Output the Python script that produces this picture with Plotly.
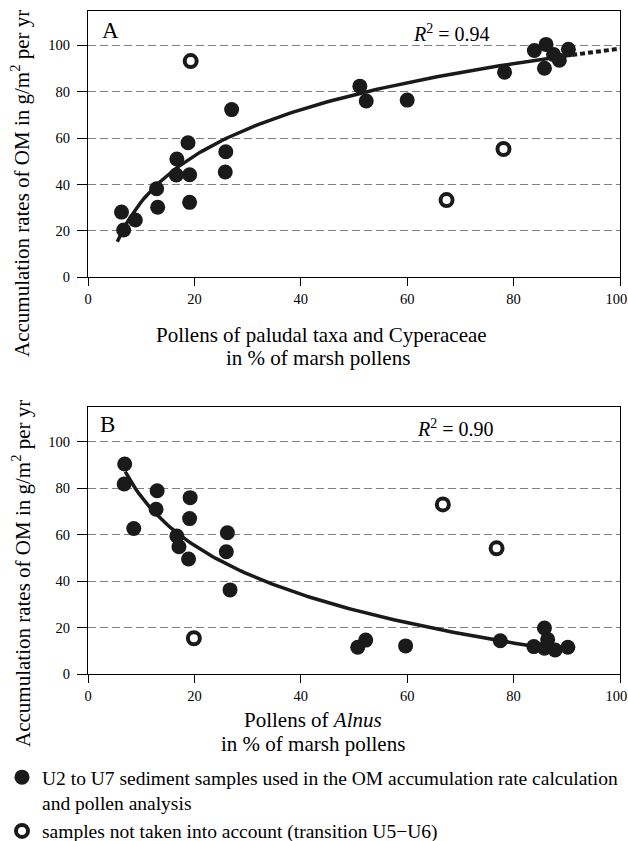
import numpy as np
import plotly.graph_objects as go

W, H = 628, 841

# ---------------- data ----------------
a_used_x = [6.3, 6.7, 8.9, 12.9, 13.1, 16.7, 16.6, 18.8, 19.1, 19.1, 25.9, 25.8, 27.0,
            51.1, 52.3, 60.0, 78.3, 83.9, 86.1, 85.8, 87.5, 88.6, 90.3]
a_used_y = [28.1, 20.4, 24.7, 38.2, 30.2, 51.0, 44.1, 58.0, 44.2, 32.3, 54.1, 45.4, 72.3,
            82.4, 76.0, 76.4, 88.4, 97.8, 100.4, 90.1, 96.1, 93.6, 98.3]
a_excl_x = [19.3, 67.4, 78.1]
a_excl_y = [93.2, 33.3, 55.3]

b_used_x = [6.9, 6.8, 8.6, 13.0, 12.8, 19.2, 19.1, 16.7, 17.1, 18.9, 26.2, 26.0, 26.7,
            50.7, 52.2, 59.7, 77.5, 83.8, 85.8, 86.4, 85.8, 87.8, 90.2]
b_used_y = [90.4, 81.8, 62.6, 78.9, 70.9, 75.9, 66.9, 59.4, 54.8, 49.5, 60.8, 52.6, 36.2,
            11.5, 14.6, 12.1, 14.3, 11.8, 19.8, 14.9, 11.1, 10.3, 11.5]
b_excl_x = [19.9, 66.7, 76.8]
b_excl_y = [15.4, 73.0, 54.1]

# logarithmic fits  y = c0 + c1*ln(x)  (as drawn in the reference)
fit_a = (-33.6, 28.7)
fit_a_solid = (5.5, 91.0)
fit_a_dotted = (91.0, 100.0)
fit_b = (146.1, -30.3)
fit_b_range = (7.0, 85.0)

x_ticks = [0, 20, 40, 60, 80, 100]
x_tick_labels = ["0", "20", "40", "60", "80", "100\u2002"]
y_ticks = [0, 20, 40, 60, 80, 100]

r2_a = "0.94"
r2_b = "0.90"

legend_used = "U2 to U7 sediment samples used in the OM accumulation rate calculation<br>and pollen analysis"
legend_excl = "samples not taken into account (transition U5\u2212U6)"

FONT = '"Liberation Serif", "Times New Roman", Times, "DejaVu Serif", serif'


def curve(coef, rng, n=120):
    xs = np.linspace(rng[0], rng[1], n)
    return xs, coef[0] + coef[1] * np.log(xs)


fig = go.Figure()

filled = dict(color="#1a1a1a", size=15)
opened = dict(color="#1a1a1a", size=12, symbol="circle-open", line=dict(width=4, color="#1a1a1a"))
line_style = dict(color="#1a1a1a", width=3.5)

# Panel A
xs, ys = curve(fit_a, fit_a_solid)
fig.add_trace(go.Scatter(x=xs, y=ys, mode="lines", line=line_style, showlegend=False,
                         xaxis="x", yaxis="y", hoverinfo="skip"))
xs, ys = curve(fit_a, fit_a_dotted, 30)
fig.add_trace(go.Scatter(x=xs, y=ys, mode="lines", line=dict(color="#1a1a1a", width=4, dash="5px,3px"),
                         showlegend=False, xaxis="x", yaxis="y", hoverinfo="skip"))
fig.add_trace(go.Scatter(x=a_used_x, y=a_used_y, mode="markers", marker=filled,
                         name=legend_used, showlegend=True, xaxis="x", yaxis="y"))
fig.add_trace(go.Scatter(x=a_excl_x, y=a_excl_y, mode="markers", marker=opened,
                         name=legend_excl, showlegend=True, xaxis="x", yaxis="y"))

# Panel B
xs, ys = curve(fit_b, fit_b_range)
fig.add_trace(go.Scatter(x=xs, y=ys, mode="lines", line=line_style, showlegend=False,
                         xaxis="x2", yaxis="y2", hoverinfo="skip"))
fig.add_trace(go.Scatter(x=b_used_x, y=b_used_y, mode="markers", marker=filled,
                         showlegend=False, xaxis="x2", yaxis="y2"))
fig.add_trace(go.Scatter(x=b_excl_x, y=b_excl_y, mode="markers", marker=opened,
                         showlegend=False, xaxis="x2", yaxis="y2"))


def px_x(p):
    return p / W


def px_y(p):
    return 1 - p / H


x_dom = [px_x(88), px_x(620)]
a_dom = [px_y(277.3), px_y(11)]
b_dom = [px_y(674), px_y(407.3)]

tickfont = dict(family=FONT, size=14.5, color="black")
xaxis_common = dict(range=[0, 100], tickvals=x_ticks, ticktext=x_tick_labels, ticks="outside",
                    ticklen=8, tickwidth=1.2,
                    tickcolor="black", showline=True, linecolor="black", linewidth=1.3, mirror=True,
                    showgrid=False, zeroline=False, tickfont=tickfont, domain=x_dom, fixedrange=True,
                    ticklabeloverflow="allow")
yaxis_common = dict(range=[0, 114.8], tickvals=y_ticks, ticks="outside", ticklen=10, tickwidth=1.2,
                    tickcolor="black", showline=True, linecolor="black", linewidth=1.3, mirror=True,
                    showgrid=True, gridcolor="#808080", gridwidth=1, griddash="8px,4px",
                    zeroline=False, tickfont=tickfont, fixedrange=True, ticklabelstandoff=4,
                    ticklabeloverflow="allow")

fig.update_layout(
    width=W, height=H,
    margin=dict(l=0, r=0, t=0, b=0, autoexpand=False),
    paper_bgcolor="white", plot_bgcolor="white",
    font=dict(family=FONT, color="black"),
    xaxis=dict(**xaxis_common, anchor="y"),
    yaxis=dict(**yaxis_common, domain=a_dom, anchor="x"),
    xaxis2=dict(**xaxis_common, anchor="y2"),
    yaxis2=dict(**yaxis_common, domain=b_dom, anchor="x2"),
    legend=dict(x=px_x(2), y=px_y(758), xanchor="left", yanchor="top", valign="top",
                font=dict(family=FONT, size=19.5, color="black"),
                bgcolor="rgba(0,0,0,0)", traceorder="normal", tracegroupgap=0),
    showlegend=True,
)

ytitle = "Accumulation rates of OM in g/m<sup>2</sup> per yr"
ann = []


def add_text(text, x, y, size, angle=0, xanchor="center"):
    ann.append(dict(text=text, x=px_x(x), y=px_y(y), xref="paper", yref="paper",
                    showarrow=False, textangle=angle, xanchor=xanchor, yanchor="middle",
                    font=dict(family=FONT, size=size, color="black")))


add_text("A", 100, 30, 23, xanchor="left")
add_text("B", 98, 425, 23, xanchor="left")
add_text("<i>R</i><sup>2</sup> = " + r2_a, 452, 33, 20)
add_text("<i>R</i><sup>2</sup> = " + r2_b, 455, 428, 20)
add_text(ytitle, 21, 184, 21, angle=-90)
add_text(ytitle, 21, 574, 21, angle=-90)
add_text("Pollens of paludal taxa and Cyperaceae", 321, 335, 21)
add_text("in % of marsh pollens", 318, 358, 21)
add_text("Pollens of <i>Alnus</i>", 313, 720, 21)
add_text("in % of marsh pollens", 313, 744, 21)

fig.update_layout(annotations=ann)

fig.write_html("out.html")
